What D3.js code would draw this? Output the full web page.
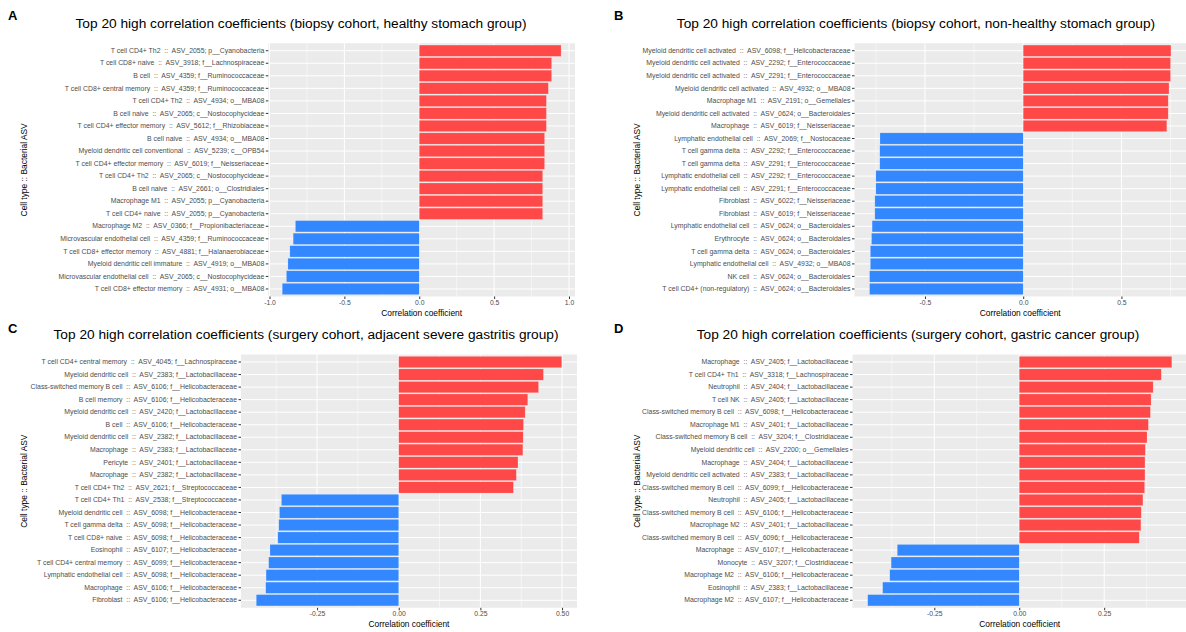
<!DOCTYPE html>
<head>
<meta charset="utf-8">
<style>
  body { margin: 0; background: #fff; }
  text { font-family: "Liberation Sans", Arial, sans-serif; }
</style>
</head>
<body>
<div id="chart"></div>
<script src="https://cdnjs.cloudflare.com/ajax/libs/d3/7.8.5/d3.min.js"></script>
<script>
// ---- data (top to bottom) ----
var labelsA = [
  "T cell CD4+ Th2  ::  ASV_2055; p__Cyanobacteria",
  "T cell CD8+ naive  ::  ASV_3918; f__Lachnospiraceae",
  "B cell  ::  ASV_4359; f__Ruminococcaceae",
  "T cell CD8+ central memory  ::  ASV_4359; f__Ruminococcaceae",
  "T cell CD4+ Th2  ::  ASV_4934; o__MBA08",
  "B cell naive  ::  ASV_2065; c__Nostocophycideae",
  "T cell CD4+ effector memory  ::  ASV_5612; f__Rhizobiaceae",
  "B cell naive  ::  ASV_4934; o__MBA08",
  "Myeloid dendritic cell conventional  ::  ASV_5239; c__OPB54",
  "T cell CD4+ effector memory  ::  ASV_6019; f__Neisseriaceae",
  "T cell CD4+ Th2  ::  ASV_2065; c__Nostocophycideae",
  "B cell naive  ::  ASV_2661; o__Clostridiales",
  "Macrophage M1  ::  ASV_2055; p__Cyanobacteria",
  "T cell CD4+ naive  ::  ASV_2055; p__Cyanobacteria",
  "Macrophage M2  ::  ASV_0366; f__Propionibacteriaceae",
  "Microvascular endothelial cell  ::  ASV_4359; f__Ruminococcaceae",
  "T cell CD8+ effector memory  ::  ASV_4881; f__Halanaerobiaceae",
  "Myeloid dendritic cell immature  ::  ASV_4919; o__MBA08",
  "Microvascular endothelial cell  ::  ASV_2065; c__Nostocophycideae",
  "T cell CD8+ effector memory  ::  ASV_4931; o__MBA08"
];
var valuesA = [0.947, 0.884, 0.884, 0.862, 0.849, 0.849, 0.849, 0.837, 0.837, 0.837,
  0.824, 0.824, 0.824, 0.824, -0.827, -0.842, -0.864, -0.877, -0.887, -0.915];

var labelsB = [
  "Myeloid dendritic cell activated  ::  ASV_6098; f__Helicobacteraceae",
  "Myeloid dendritic cell activated  ::  ASV_2292; f__Enterococcaceae",
  "Myeloid dendritic cell activated  ::  ASV_2291; f__Enterococcaceae",
  "Myeloid dendritic cell activated  ::  ASV_4932; o__MBA08",
  "Macrophage M1  ::  ASV_2191; o__Gemellales",
  "Myeloid dendritic cell activated  ::  ASV_0624; o__Bacteroidales",
  "Macrophage  ::  ASV_6019; f__Neisseriaceae",
  "Lymphatic endothelial cell  ::  ASV_2069; f__Nostocaceae",
  "T cell gamma delta  ::  ASV_2292; f__Enterococcaceae",
  "T cell gamma delta  ::  ASV_2291; f__Enterococcaceae",
  "Lymphatic endothelial cell  ::  ASV_2292; f__Enterococcaceae",
  "Lymphatic endothelial cell  ::  ASV_2291; f__Enterococcaceae",
  "Fibroblast  ::  ASV_6022; f__Neisseriaceae",
  "Fibroblast  ::  ASV_6019; f__Neisseriaceae",
  "Lymphatic endothelial cell  ::  ASV_0624; o__Bacteroidales",
  "Erythrocyte  ::  ASV_0624; o__Bacteroidales",
  "T cell gamma delta  ::  ASV_0624; o__Bacteroidales",
  "Lymphatic endothelial cell  ::  ASV_4932; o__MBA08",
  "NK cell  ::  ASV_0624; o__Bacteroidales",
  "T cell CD4+ (non-regulatory)  ::  ASV_0624; o__Bacteroidales"
];
var valuesB = [0.752, 0.750, 0.750, 0.742, 0.738, 0.738, 0.731, -0.729, -0.730, -0.730,
  -0.750, -0.750, -0.755, -0.755, -0.769, -0.772, -0.778, -0.778, -0.782, -0.782];

var labelsC = [
  "T cell CD4+ central memory  ::  ASV_4045; f__Lachnospiraceae",
  "Myeloid dendritic cell  ::  ASV_2383; f__Lactobacillaceae",
  "Class-switched memory B cell  ::  ASV_6106; f__Helicobacteraceae",
  "B cell memory  ::  ASV_6106; f__Helicobacteraceae",
  "Myeloid dendritic cell  ::  ASV_2420; f__Lactobacillaceae",
  "B cell  ::  ASV_6106; f__Helicobacteraceae",
  "Myeloid dendritic cell  ::  ASV_2382; f__Lactobacillaceae",
  "Macrophage  ::  ASV_2383; f__Lactobacillaceae",
  "Pericyte  ::  ASV_2401; f__Lactobacillaceae",
  "Macrophage  ::  ASV_2382; f__Lactobacillaceae",
  "T cell CD4+ Th2  ::  ASV_2621; f__Streptococcaceae",
  "T cell CD4+ Th1  ::  ASV_2538; f__Streptococcaceae",
  "Myeloid dendritic cell  ::  ASV_6098; f__Helicobacteraceae",
  "T cell gamma delta  ::  ASV_6098; f__Helicobacteraceae",
  "T cell CD8+ naive  ::  ASV_6098; f__Helicobacteraceae",
  "Eosinophil  ::  ASV_6107; f__Helicobacteraceae",
  "T cell CD4+ central memory  ::  ASV_6099; f__Helicobacteraceae",
  "Lymphatic endothelial cell  ::  ASV_6098; f__Helicobacteraceae",
  "Macrophage  ::  ASV_6106; f__Helicobacteraceae",
  "Fibroblast  ::  ASV_6106; f__Helicobacteraceae"
];
var valuesC = [0.499, 0.443, 0.428, 0.395, 0.387, 0.382, 0.381, 0.380, 0.365, 0.360,
  0.351, -0.359, -0.365, -0.367, -0.370, -0.394, -0.398, -0.406, -0.407, -0.436];

var labelsD = [
  "Macrophage  ::  ASV_2405; f__Lactobacillaceae",
  "T cell CD4+ Th1  ::  ASV_3318; f__Lachnospiraceae",
  "Neutrophil  ::  ASV_2404; f__Lactobacillaceae",
  "T cell NK  ::  ASV_2405; f__Lactobacillaceae",
  "Class-switched memory B cell  ::  ASV_6098; f__Helicobacteraceae",
  "Macrophage M1  ::  ASV_2401; f__Lactobacillaceae",
  "Class-switched memory B cell  ::  ASV_3204; f__Clostridiaceae",
  "Myeloid dendritic cell  ::  ASV_2200; o__Gemellales",
  "Macrophage  ::  ASV_2404; f__Lactobacillaceae",
  "Myeloid dendritic cell activated  ::  ASV_2383; f__Lactobacillaceae",
  "Class-switched memory B cell  ::  ASV_6099; f__Helicobacteraceae",
  "Neutrophil  ::  ASV_2405; f__Lactobacillaceae",
  "Class-switched memory B cell  ::  ASV_6106; f__Helicobacteraceae",
  "Macrophage M2  ::  ASV_2401; f__Lactobacillaceae",
  "Class-switched memory B cell  ::  ASV_6096; f__Helicobacteraceae",
  "Macrophage  ::  ASV_6107; f__Helicobacteraceae",
  "Monocyte  ::  ASV_3207; f__Clostridiaceae",
  "Macrophage M2  ::  ASV_6106; f__Helicobacteraceae",
  "Eosinophil  ::  ASV_2383; f__Lactobacillaceae",
  "Macrophage M2  ::  ASV_6107; f__Helicobacteraceae"
];
var valuesD = [0.449, 0.418, 0.394, 0.388, 0.386, 0.380, 0.376, 0.371, 0.370, 0.370,
  0.369, 0.364, 0.359, 0.358, 0.353, -0.359, -0.377, -0.381, -0.402, -0.446];

var titles = [
  "Top 20 high correlation coefficients (biopsy cohort, healthy stomach group)",
  "Top 20 high correlation coefficients (biopsy cohort, non-healthy stomach group)",
  "Top 20 high correlation coefficients (surgery cohort, adjacent severe gastritis group)",
  "Top 20 high correlation coefficients (surgery cohort, gastric cancer group)"
];
var tags = ["A", "B", "C", "D"];

var ticksAB = [-1.0, -0.5, 0.0, 0.5, 1.0];
var tickLabelsAB = ["-1.0", "-0.5", "0.0", "0.5", "1.0"];
var minorAB = [-0.75, -0.25, 0.25, 0.75];
var ticksCD = [-0.25, 0.0, 0.25, 0.5];
var tickLabelsCD = ["-0.25", "0.00", "0.25", "0.50"];
var minorCD = [-0.375, -0.125, 0.125, 0.375];

// ---- layout ----
var W = 1186, H = 632;
var red = "#FF4848", blue = "#3388FF";

var panels = [
  {labels: labelsA, values: valuesA, ticks: ticksAB, tickLabels: tickLabelsAB, minor: minorAB,
   x0: 268.3, x1: 575, y0: 43.2, y1: 296.5, titleX: 301, titleY: 27.5, tagX: 8, tagY: 20, yTitleX: 24},
  {labels: labelsB, values: valuesB, ticks: ticksAB, tickLabels: tickLabelsAB, minor: minorAB,
   x0: 854.5, x1: 1186, y0: 43.2, y1: 296.5, titleX: 916, titleY: 27.5, tagX: 614, tagY: 20, yTitleX: 637},
  {labels: labelsC, values: valuesC, ticks: ticksCD, tickLabels: tickLabelsCD, minor: minorCD,
   x0: 241, x1: 577, y0: 354.5, y1: 607.8, titleX: 306, titleY: 338.5, tagX: 8, tagY: 333, yTitleX: 24},
  {labels: labelsD, values: valuesD, ticks: ticksCD, tickLabels: tickLabelsCD, minor: minorCD,
   x0: 852.5, x1: 1187, y0: 354.5, y1: 607.8, titleX: 918, titleY: 338.5, tagX: 614, tagY: 333, yTitleX: 637}
];

var svg = d3.select("#chart").append("svg")
  .attr("width", W)
  .attr("height", H);

panels.forEach(function(p, i) {
  drawPanel(p, i);
});

function drawPanel(p, i) {
  var lo = d3.min(p.values), hi = d3.max(p.values);
  var pad = (hi - lo) * 0.05;

  var x = d3.scaleLinear().domain([lo - pad, hi + pad]).range([p.x0, p.x1]);
  var y = d3.scaleBand().domain(p.labels).range([p.y0, p.y1])
    .paddingInner(0.1).paddingOuter(0.15);

  var g = svg.append("g").attr("class", "panel");

  // panel background + grid
  g.append("rect")
    .attr("x", p.x0).attr("y", p.y0)
    .attr("width", p.x1 - p.x0).attr("height", p.y1 - p.y0)
    .attr("fill", "#EBEBEB");

  g.selectAll("line.minor").data(p.minor).enter().append("line")
    .attr("x1", x).attr("x2", x)
    .attr("y1", p.y0).attr("y2", p.y1)
    .attr("stroke", "#fff").attr("stroke-width", 0.5);

  g.selectAll("line.vmajor").data(p.ticks).enter().append("line")
    .attr("x1", x).attr("x2", x)
    .attr("y1", p.y0).attr("y2", p.y1)
    .attr("stroke", "#fff").attr("stroke-width", 1);

  g.selectAll("line.hmajor").data(p.labels).enter().append("line")
    .attr("x1", p.x0).attr("x2", p.x1)
    .attr("y1", function(d) { return y(d) + y.bandwidth() / 2; })
    .attr("y2", function(d) { return y(d) + y.bandwidth() / 2; })
    .attr("stroke", "#fff").attr("stroke-width", 1);

  // bars
  g.selectAll("rect.bar").data(p.labels).enter().append("rect")
    .attr("class", "bar")
    .attr("x", function(d, j) { return Math.min(x(0), x(p.values[j])); })
    .attr("width", function(d, j) { return Math.abs(x(p.values[j]) - x(0)); })
    .attr("y", function(d) { return y(d); })
    .attr("height", y.bandwidth())
    .attr("fill", function(d, j) { return p.values[j] > 0 ? red : blue; })
    .attr("stroke", "#fff").attr("stroke-opacity", 0.35).attr("stroke-width", 0.5);

  // axes
  var yAxis = g.append("g")
    .attr("transform", "translate(" + p.x0 + ",0)")
    .call(d3.axisLeft(y).tickSize(2.5).tickPadding(1.5));
  yAxis.select(".domain").remove();
  yAxis.selectAll("line").attr("stroke", "#333");
  yAxis.selectAll("text")
    .attr("fill", "#4D4D4D")
    .style("font-size", "6.9px")
    .style("white-space", "pre")
    .style("font-family", '"Liberation Sans", Arial, sans-serif');

  var visTicks = p.ticks.filter(function(t) { return t >= x.domain()[0] && t <= x.domain()[1]; });
  var xAxis = g.append("g")
    .attr("transform", "translate(0," + p.y1 + ")")
    .call(d3.axisBottom(x).tickValues(visTicks).tickSize(2.5).tickPadding(1)
      .tickFormat(function(t) { return p.tickLabels[p.ticks.indexOf(t)]; }));
  xAxis.select(".domain").remove();
  xAxis.selectAll("line").attr("stroke", "#333");
  xAxis.selectAll("text")
    .attr("fill", "#4D4D4D")
    .style("font-size", "6.8px")
    .style("font-family", '"Liberation Sans", Arial, sans-serif');

  // titles
  g.append("text")
    .attr("x", (p.x0 + p.x1) / 2).attr("y", p.y1 + 19)
    .attr("text-anchor", "middle")
    .style("font-size", "8.4px")
    .text("Correlation coefficient");

  g.append("text")
    .attr("transform", "translate(" + (p.yTitleX + 3) + "," + ((p.y0 + p.y1) / 2) + ") rotate(-90)")
    .attr("text-anchor", "middle")
    .style("font-size", "8.4px")
    .text("Cell type :: Bacterial ASV");

  g.append("text")
    .attr("x", p.titleX).attr("y", p.titleY)
    .attr("text-anchor", "middle")
    .style("font-size", "13.7px")
    .text(titles[i]);

  g.append("text")
    .attr("x", p.tagX).attr("y", p.tagY)
    .style("font-size", "13px")
    .style("font-weight", "bold")
    .text(tags[i]);
}
</script>
</body>
</html>
